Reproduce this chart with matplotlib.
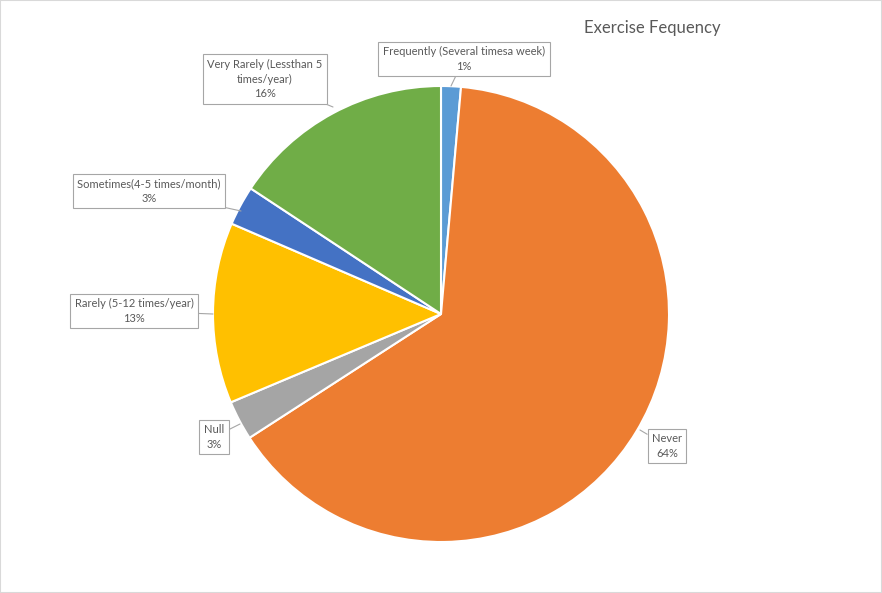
import matplotlib.pyplot as plt
from matplotlib.patches import Rectangle

plt.rcParams['font.family'] = ['Lato', 'DejaVu Sans']

# data (share of respondents, %), clockwise from 12 o'clock
names = ['Frequently (Several timesa week)', 'Never', 'Null',
         'Rarely (5-12 times/year)', 'Sometimes(4-5 times/month)',
         'Very Rarely (Lessthan 5\ntimes/year)']
values = [1.4, 64.4, 2.8, 12.8, 2.8, 15.7]
colors = ['#5B9BD5', '#ED7D31', '#A5A5A5', '#FFC000', '#4472C4', '#70AD47']

W, H = 882, 593
fig = plt.figure(figsize=(W / 100, H / 100), dpi=100)
ax = fig.add_axes([0, 0, 1, 1])

cx, cy, r = 441, H - 314, 228
wedges, _ = ax.pie(values, colors=colors, startangle=90, counterclock=False,
                   center=(cx, cy), radius=r, frame=True,
                   wedgeprops=dict(edgecolor='white', linewidth=1.5))
ax.set_xlim(0, W)
ax.set_ylim(0, H)
ax.set_aspect('equal')
ax.axis('off')

total = sum(values)
# label box centre (px) and point on the pie edge (px)
label_pos = [((464, 59), (451, 86)),
             ((667, 446), (640, 430)),
             ((214, 437), (240, 424)),
             ((134, 311), (213, 314)),
             ((149, 191), (241, 211)),
             ((265, 79), (333, 107))]

for name, v, (txt, pt) in zip(names, values, label_pos):
    s = f'{name}\n{round(v / total * 100):.0f}%'
    ax.annotate(s, xy=(pt[0], H - pt[1]), xytext=(txt[0], H - txt[1]),
                ha='center', va='center', multialignment='center',
                fontsize=8, color='#595959', linespacing=1.4,
                bbox=dict(boxstyle='square,pad=0.4', fc='white', ec='#A6A6A6', lw=0.8),
                arrowprops=dict(arrowstyle='-', color='#A6A6A6', lw=0.8,
                                shrinkA=0, shrinkB=0))

ax.text(652, H - 28, 'Exercise Fequency', ha='center', va='center',
        fontsize=12, color='#595959')

fig.patches.append(Rectangle((0, 0), 1, 1, transform=fig.transFigure,
                             fill=False, ec='#D9D9D9', lw=1.5))

fig.savefig('out.png', dpi=100)
